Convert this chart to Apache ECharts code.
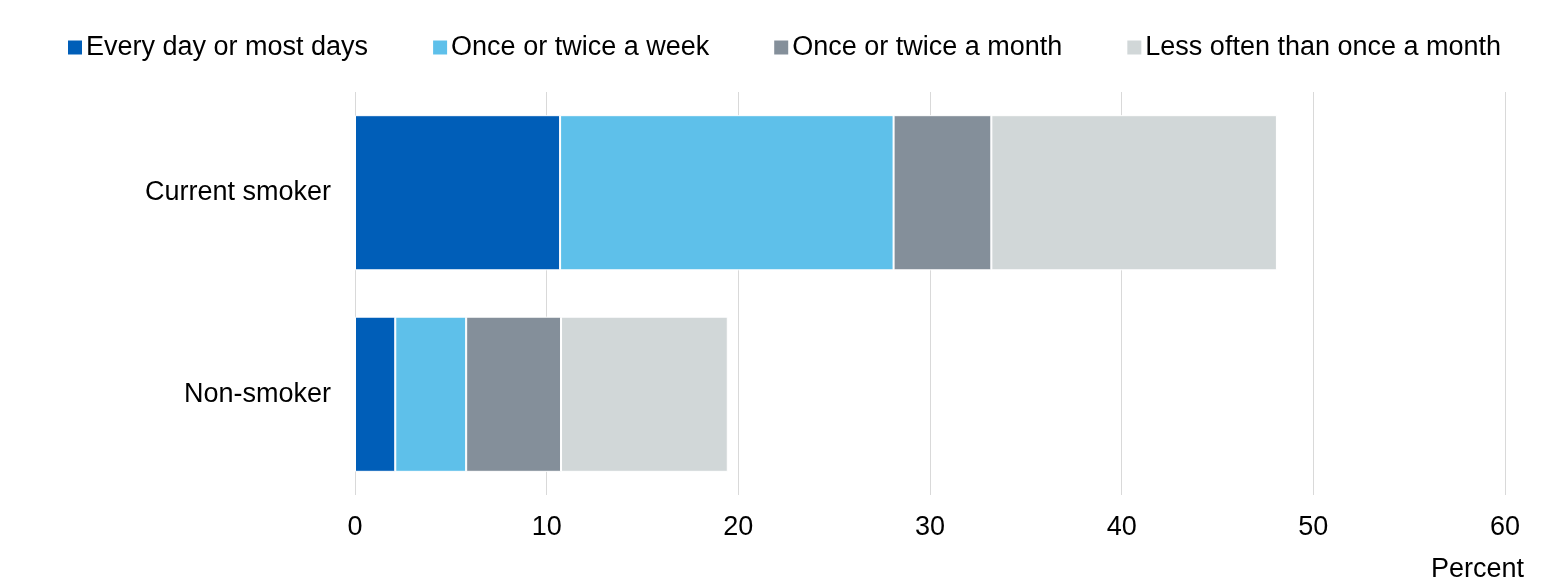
<!DOCTYPE html>
<html>
<head>
<meta charset="utf-8">
<script src="https://cdn.jsdelivr.net/npm/echarts@6/dist/echarts.min.js"></script>
<style>
  html, body { margin: 0; padding: 0; background: #fff; }
  #chart { width: 1560px; height: 585px; }
</style>
</head>
<body>
<div id="chart"></div>
<script>
// categories, bottom to top as echarts draws a category y axis
var categories = ['Non-smoker', 'Current smoker'];

var seriesNames = ['Every day or most days', 'Once or twice a week', 'Once or twice a month', 'Less often than once a month'];
var colors = ['#005eb8', '#5ec0ea', '#848f9a', '#d1d7d8'];

// percent, [Non-smoker, Current smoker]
var everyDay = [2.1, 10.7];
var weekly = [3.7, 17.4];
var monthly = [4.95, 5.1];
var lessOften = [8.7, 14.9];

var xTicks = { min: 0, max: 60, interval: 10 };

var chart = echarts.init(document.getElementById('chart'));

var values = [everyDay, weekly, monthly, lessOften];
var series = [];
for (var i = 0; i < seriesNames.length; i++) {
    series.push({
        name: seriesNames[i],
        type: 'bar',
        stack: 'total',
        barCategoryGap: '23%',
        itemStyle: { color: colors[i], borderColor: '#fff', borderWidth: 1 },
        data: values[i]
    });
}

chart.setOption({
    animation: false,
    textStyle: { fontFamily: 'Liberation Sans, Arial, sans-serif' },
    title: {
        text: 'Percent',
        right: 31,
        top: 551,
        textStyle: { fontSize: 27, fontWeight: 'normal', color: '#000' }
    },
    legend: {
        top: 29,
        left: 61,
        itemWidth: 16,
        itemHeight: 16,
        itemGap: 63,
        icon: 'rect',
        textStyle: { fontSize: 27, color: '#000', padding: [0, 0, 0, -2] },
        data: seriesNames
    },
    grid: {
        left: 355,
        right: 55,
        top: 92,
        bottom: 90
    },
    xAxis: {
        type: 'value',
        min: xTicks.min,
        max: xTicks.max,
        interval: xTicks.interval,
        axisLine: { show: false },
        axisTick: { show: false },
        axisLabel: { fontSize: 27, color: '#000', margin: 19 },
        splitLine: { show: true, lineStyle: { color: '#d9d9d9', width: 1 } }
    },
    yAxis: {
        type: 'category',
        data: categories,
        axisLine: { show: false },
        axisTick: { show: false },
        axisLabel: { fontSize: 27, color: '#000', margin: 24 }
    },
    series: series
});
</script>
</body>
</html>
